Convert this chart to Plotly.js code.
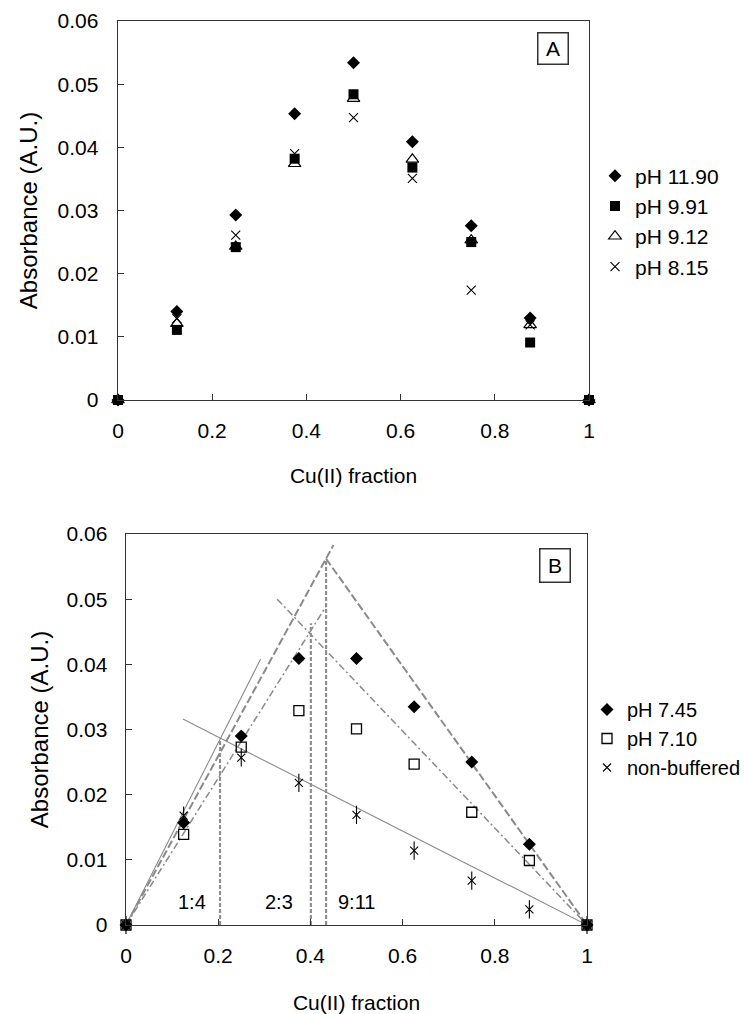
<!DOCTYPE html>
<html>
<head>
<meta charset="utf-8">
<script src="https://cdn.plot.ly/plotly-3.0.1.min.js"></script>
<style>html,body{margin:0;padding:0;background:#fff;}#chart{width:744px;height:1014px;}</style>
</head>
<body>
<div id="chart"></div>
<script>
// ---- data ----
var cuFraction = [0, 0.125, 0.25, 0.375, 0.5, 0.625, 0.75, 0.875, 1];
var xTickVals = [0, 0.2, 0.4, 0.6, 0.8, 1];
var xTickText = ['0', '0.2', '0.4', '0.6', '0.8', '1'];
var yTickVals = [0, 0.01, 0.02, 0.03, 0.04, 0.05, 0.06];
var yTickText = ['0', '0.01', '0.02', '0.03', '0.04', '0.05', '0.06'];

// Panel A
var namesA = ['pH 11.90', 'pH 9.91', 'pH 9.12', 'pH 8.15'];
var absPH1190 = [0, 0.0140, 0.0293, 0.0453, 0.0534, 0.0409, 0.0276, 0.0130, 0];
var absPH991  = [0, 0.0111, 0.0242, 0.0382, 0.0484, 0.0368, 0.0250, 0.0091, 0];
var absPH912  = [0, 0.0121, 0.0243, 0.0374, 0.0477, 0.0381, 0.0253, 0.0119, 0];
var absPH815  = [0, 0.0129, 0.0261, 0.0390, 0.0447, 0.0351, 0.0174, 0.0119, 0];

// Panel B
var namesB = ['pH 7.45', 'pH 7.10', 'non-buffered'];
var absPH745  = [0, 0.0157, 0.0290, 0.0409, 0.0409, 0.0335, 0.0250, 0.0124, 0];
var absPH710  = [0, 0.0139, 0.0273, 0.0329, 0.0301, 0.0247, 0.0173, 0.0099, 0];
var absNonBuf = [0, 0.0168, 0.0257, 0.0218, 0.0169, 0.0114, 0.0068, 0.0024, 0];

// fitted lines (left branch, gap, right branch)
var fit745X = [0, 0.450, null, 0.434, 1];
var fit745Y = [0, 0.0583, null, 0.0562, 0];
var fit710X = [0, 0.434, null, 0.328, 1];
var fit710Y = [0, 0.0489, null, 0.0500, 0];
var fitNbX  = [0, 0.292, null, 0.1235, 1];
var fitNbY  = [0, 0.0408, null, 0.0316, 0];
// vertical intersection drop lines
var dropX = [0.204, 0.204, null, 0.401, 0.401, null, 0.434, 0.434];
var dropY = [0, 0.0285, null, 0, 0.0463, null, 0, 0.0562];
// ratio labels
var ratioText = ['1:4', '2:3', '9:11'];
var ratioX = [0.1425, 0.332, 0.499];
var ratioY = [0.0036, 0.0036, 0.0036];

// ---- styling ----
var FONT = 'Liberation Sans, Arial, sans-serif';
var W = 744, H = 1014;
function px(x) { return x / W; }
function py(y) { return 1 - y / H; }

var traces = [];
function pts(y, name, marker, xa, ya, leg, extra) {
  var t = {x: cuFraction, y: y, name: name, type: 'scatter', mode: 'markers', marker: marker,
           xaxis: xa, yaxis: ya, legend: leg, cliponaxis: false, hoverinfo: 'x+y+name'};
  if (extra) for (var k in extra) t[k] = extra[k];
  return t;
}

traces.push(pts(absPH1190, namesA[0], {symbol: 'diamond', size: 10, color: '#000'}, 'x', 'y', 'legend'));
traces.push(pts(absPH991, namesA[1], {symbol: 'square', size: 10, color: '#000'}, 'x', 'y', 'legend'));
traces.push(pts(absPH912, namesA[2], {symbol: 'triangle-up-open', size: 11, color: '#000', line: {width: 1.2, color: '#000'}}, 'x', 'y', 'legend'));
traces.push(pts(absPH815, namesA[3], {symbol: 'x-thin-open', size: 9, color: '#000', line: {width: 1.1, color: '#000'}}, 'x', 'y', 'legend'));

traces.push({x: fitNbX, y: fitNbY, type: 'scatter', mode: 'lines', xaxis: 'x2', yaxis: 'y2', showlegend: false,
  line: {color: '#8a8a8a', width: 1.1}, hoverinfo: 'skip'});
traces.push({x: fit710X, y: fit710Y, type: 'scatter', mode: 'lines', xaxis: 'x2', yaxis: 'y2', showlegend: false,
  line: {color: '#8a8a8a', width: 1.5, dash: '7px,3px,2px,3px'}, hoverinfo: 'skip'});
traces.push({x: fit745X, y: fit745Y, type: 'scatter', mode: 'lines', xaxis: 'x2', yaxis: 'y2', showlegend: false,
  line: {color: '#8a8a8a', width: 2, dash: '8px,3px'}, hoverinfo: 'skip'});
traces.push({x: dropX, y: dropY, type: 'scatter', mode: 'lines', xaxis: 'x2', yaxis: 'y2', showlegend: false,
  line: {color: '#8f8f8f', width: 2.2, dash: '4px,2px'}, hoverinfo: 'skip'});

traces.push(pts(absPH745, namesB[0], {symbol: 'diamond', size: 10, color: '#000'}, 'x2', 'y2', 'legend2'));
traces.push(pts(absPH710, namesB[1], {symbol: 'square-open', size: 10, color: '#000', line: {width: 1.3, color: '#000'}}, 'x2', 'y2', 'legend2'));
traces.push(pts(absNonBuf, namesB[2], {symbol: 'x-thin-open', size: 8, color: '#000', line: {width: 1.1, color: '#000'}}, 'x2', 'y2', 'legend2', {legendgroup: 'nb'}));
traces.push(pts(absNonBuf, namesB[2], {symbol: 'line-ns-open', size: 13, color: '#000', line: {width: 1.1, color: '#000'}}, 'x2', 'y2', 'legend2', {legendgroup: 'nb', showlegend: false}));

function xAxis(domain, anchor, titleOff) {
  return {domain: domain, anchor: anchor, range: [0, 1], tickvals: xTickVals, ticktext: xTickText,
    ticks: 'inside', ticklen: 6, tickwidth: 1.3, tickcolor: '#333', showgrid: false, zeroline: false,
    showline: true, mirror: true, linecolor: '#333', linewidth: 1.4, ticklabelstandoff: 11,
    tickfont: {family: FONT, size: 21, color: '#000'},
    title: {text: 'Cu(II) fraction', font: {family: FONT, size: 21, color: '#000'}, standoff: titleOff},
    automargin: false, fixedrange: true};
}
function yAxis(domain, anchor, lblOff, titleOff) {
  return {domain: domain, anchor: anchor, range: [0, 0.06], tickvals: yTickVals, ticktext: yTickText,
    ticks: 'inside', ticklen: 6, tickwidth: 1.3, tickcolor: '#333', showgrid: false, zeroline: false,
    showline: true, mirror: true, linecolor: '#333', linewidth: 1.4, ticklabelstandoff: lblOff,
    tickfont: {family: FONT, size: 21, color: '#000'},
    title: {text: 'Absorbance (A.U.)', font: {family: FONT, size: 24, color: '#000'}, standoff: titleOff},
    automargin: false, fixedrange: true};
}

var annotations = [];
annotations.push({xref: 'paper', yref: 'paper', x: px(553.3), y: py(48.2), text: 'A', showarrow: false,
  font: {family: FONT, size: 21, color: '#000'}, bordercolor: '#333', borderwidth: 1.5, borderpad: 1,
  width: 27, height: 28, xanchor: 'center', yanchor: 'middle'});
annotations.push({xref: 'paper', yref: 'paper', x: px(555.4), y: py(565.5), text: 'B', showarrow: false,
  font: {family: FONT, size: 21, color: '#000'}, bordercolor: '#333', borderwidth: 1.5, borderpad: 1,
  width: 27, height: 30, xanchor: 'center', yanchor: 'middle'});
for (var i = 0; i < ratioText.length; i++) {
  annotations.push({xref: 'x2', yref: 'y2', x: ratioX[i], y: ratioY[i], text: ratioText[i], showarrow: false,
    font: {family: FONT, size: 20, color: '#000'}, xanchor: 'center', yanchor: 'middle'});
}

var layout = {
  width: W, height: H, margin: {l: 0, r: 0, t: 0, b: 0, autoexpand: false},
  paper_bgcolor: '#fff', plot_bgcolor: '#fff',
  font: {family: FONT, size: 20, color: '#000'},
  xaxis: xAxis([px(118), px(589)], 'y', 27),
  yaxis: yAxis([py(400), py(21)], 'x', 14, 13),
  xaxis2: xAxis([px(126), px(587)], 'y2', 29),
  yaxis2: yAxis([py(925), py(534)], 'x2', 13, 11),
  legend: {x: px(595), y: py(155.5), xanchor: 'left', yanchor: 'top', bgcolor: 'rgba(0,0,0,0)',
    font: {family: FONT, size: 21, color: '#000'}, itemwidth: 30, tracegroupgap: 0},
  legend2: {x: px(587), y: py(690), xanchor: 'left', yanchor: 'top', bgcolor: 'rgba(0,0,0,0)',
    font: {family: FONT, size: 20, color: '#000'}, itemwidth: 30, tracegroupgap: 0},
  annotations: annotations,
  showlegend: true
};

Plotly.newPlot('chart', traces, layout, {displayModeBar: false, staticPlot: true});
</script>
</body>
</html>
